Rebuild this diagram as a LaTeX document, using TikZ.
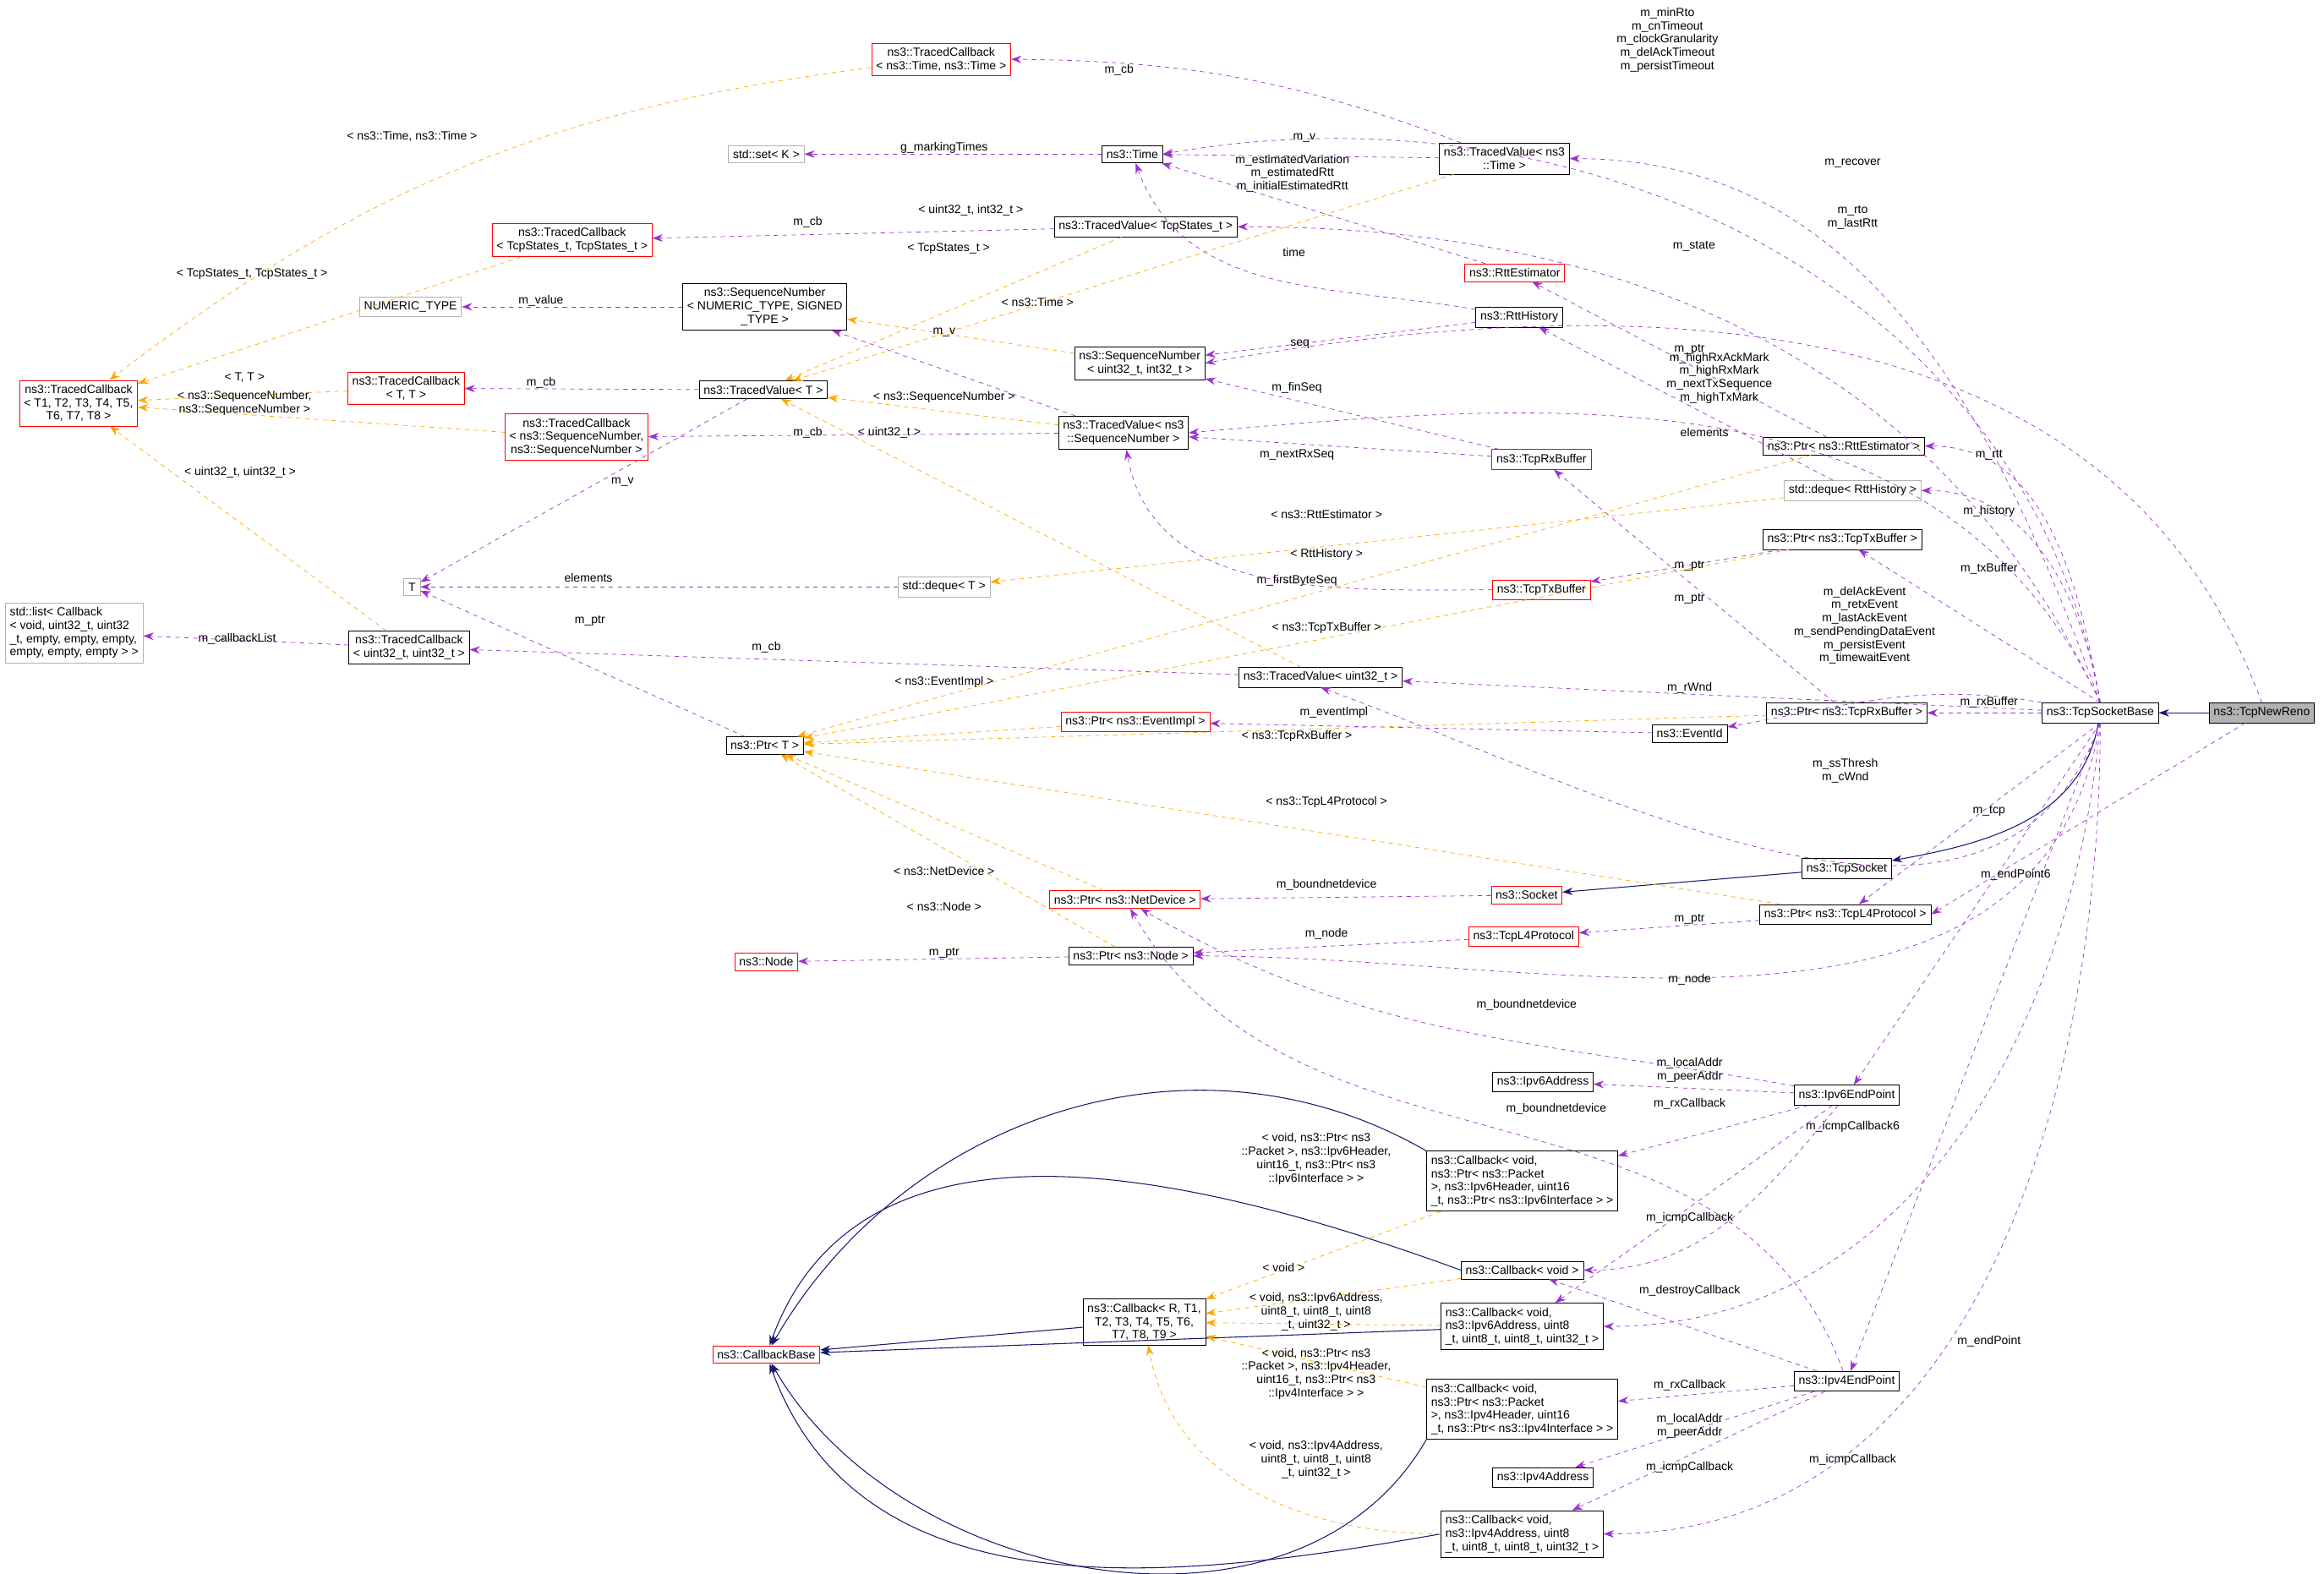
\documentclass[tikz,border=0pt]{standalone}
\usepackage{fontspec}
\setmainfont{Liberation Sans}
\usetikzlibrary{arrows.meta}
\definecolor{mbr}{HTML}{9A32CD}
\definecolor{tpl}{HTML}{FFA500}
\definecolor{inh}{HTML}{191970}
\tikzset{
    >={Stealth[length=7pt,width=5pt]},
    cls/.style={
           rectangle,
           draw=black, fill=white,
           inner sep=3pt,
           align=center,
           font=\fontsize{8pt}{9pt}\selectfont},
    redcls/.style={cls, draw=red},
    graycls/.style={cls, draw=gray!60},
    mem/.style={->, mbr, dashed},
    tmp/.style={->, tpl, dashed},
    base/.style={->, inh, semithick},
    lbl/.style={align=center, inner sep=0pt,
           font=\fontsize{8pt}{9pt}\selectfont}
}
\begin{document}
\begin{tikzpicture}[x=1pt,y=-1pt]
          \useasboundingbox (0,0) rectangle (1568,1062);
          % classes
          \node[redcls](tcbtime) at (635,40) {ns3::TracedCallback\\{}< ns3::Time, ns3::Time >};
          \node[graycls](setk) at (517,104) {std::set< K >};
          \node[cls](time) at (764,104) {ns3::Time};
          \node[cls](tvtime) at (1015,107) {ns3::TracedValue< ns3\\::Time >};
          \node[redcls](tcbstates) at (386,162) {ns3::TracedCallback\\{}< TcpStates\_t, TcpStates\_t >};
          \node[cls](tvstates) at (773,153) {ns3::TracedValue< TcpStates\_t >};
          \node[redcls](rttest) at (1022,184) {ns3::RttEstimator};
          \node[graycls](numtype) at (277,207) {NUMERIC\_TYPE};
          \node[cls](seqgen) at (516,207) {ns3::SequenceNumber\\{}< NUMERIC\_TYPE, SIGNED\\\_TYPE >};
          \node[cls](rtthist) at (1025,214) {ns3::RttHistory};
          \node[cls](sequ32) at (769,245) {ns3::SequenceNumber\\{}< uint32\_t, int32\_t >};
          \node[redcls](tcbgen) at (53,272) {ns3::TracedCallback\\{}< T1, T2, T3, T4, T5,\\T6, T7, T8 >};
          \node[redcls](tcbtt) at (274,262) {ns3::TracedCallback\\{}< T, T >};
          \node[cls](tvgen) at (515,263) {ns3::TracedValue< T >};
          \node[redcls](tcbseq) at (389,295) {ns3::TracedCallback\\{}< ns3::SequenceNumber,\\ns3::SequenceNumber >};
          \node[cls](tvseq) at (758,292) {ns3::TracedValue< ns3\\::SequenceNumber >};
          \node[redcls](rxbuf) at (1040,310) {ns3::TcpRxBuffer};
          \node[cls](ptrrtt) at (1244,301) {ns3::Ptr< ns3::RttEstimator >};
          \node[graycls](dqrtt) at (1250,331) {std::deque< RttHistory >};
          \node[cls](ptrtx) at (1243,364) {ns3::Ptr< ns3::TcpTxBuffer >};
          \node[graycls](tgen) at (278,396) {T};
          \node[graycls](dqgen) at (637,396) {std::deque< T >};
          \node[redcls](txbuf) at (1040,398) {ns3::TcpTxBuffer};
          \node[graycls, align=left](cblist) at (50,427) {std::list< Callback\\{}< void, uint32\_t, uint32\\\_t, empty, empty, empty,\\ empty, empty, empty > >};
          \node[cls](tcbuu) at (276,437) {ns3::TracedCallback\\{}< uint32\_t, uint32\_t >};
          \node[cls](tvu32) at (891,457) {ns3::TracedValue< uint32\_t >};
          \node[cls](sockbase) at (1417,481) {ns3::TcpSocketBase};
          \node[cls, fill=gray!60](newreno) at (1526,481) {ns3::TcpNewReno};
          \node[cls](ptrrx) at (1246,481) {ns3::Ptr< ns3::TcpRxBuffer >};
          \node[redcls](ptrevent) at (766,487) {ns3::Ptr< ns3::EventImpl >};
          \node[cls](eventid) at (1140,495) {ns3::EventId};
          \node[cls](ptrgen) at (516,503) {ns3::Ptr< T >};
          \node[cls](tcpsock) at (1246,586) {ns3::TcpSocket};
          \node[redcls](ptrdev) at (759,607) {ns3::Ptr< ns3::NetDevice >};
          \node[redcls](socket) at (1030,604) {ns3::Socket};
          \node[cls](ptrl4) at (1245,617) {ns3::Ptr< ns3::TcpL4Protocol >};
          \node[redcls](tcpl4) at (1028,632) {ns3::TcpL4Protocol};
          \node[redcls](node) at (517,649) {ns3::Node};
          \node[cls](ptrnode) at (763,645) {ns3::Ptr< ns3::Node >};
          \node[cls](ip6addr) at (1041,730) {ns3::Ipv6Address};
          \node[cls](ep6) at (1246,739) {ns3::Ipv6EndPoint};
          \node[cls, align=left](cb6pkt) at (1027,797) {ns3::Callback< void,\\ ns3::Ptr< ns3::Packet\\ >, ns3::Ipv6Header, uint16\\\_t, ns3::Ptr< ns3::Ipv6Interface > >};
          \node[cls](cbvoid) at (1027,857) {ns3::Callback< void >};
          \node[cls](cbgen) at (772,892) {ns3::Callback< R, T1,\\ T2, T3, T4, T5, T6,\\ T7, T8, T9 >};
          \node[redcls](cbbase) at (517,914) {ns3::CallbackBase};
          \node[cls, align=left](cb6addr) at (1027,895) {ns3::Callback< void,\\ ns3::Ipv6Address, uint8\\\_t, uint8\_t, uint8\_t, uint32\_t >};
          \node[cls](ep4) at (1246,932) {ns3::Ipv4EndPoint};
          \node[cls, align=left](cb4pkt) at (1027,951) {ns3::Callback< void,\\ ns3::Ptr< ns3::Packet\\ >, ns3::Ipv4Header, uint16\\\_t, ns3::Ptr< ns3::Ipv4Interface > >};
          \node[cls](ip4addr) at (1041,997) {ns3::Ipv4Address};
          \node[cls, align=left](cb4addr) at (1027,1035) {ns3::Callback< void,\\ ns3::Ipv4Address, uint8\\\_t, uint8\_t, uint8\_t, uint32\_t >};
          % inheritance
          \draw[base] (newreno) -- (sockbase);
          \draw[base] (sockbase) to[out=-100, in=10] (tcpsock);
          \draw[base] (tcpsock) -- (socket);
          \draw[base] (cbgen) -- (cbbase);
          \draw[base] (cb6pkt.north west) to[out=150, in=60] (cbbase);
          \draw[base] (cbvoid.west) to[out=160, in=70] (cbbase);
          \draw[base] (cb6addr) -- (cbbase);
          \draw[base] (cb4pkt.south west) to[out=-120, in=-60] (cbbase);
          \draw[base] (cb4addr.west) to[out=190, in=-70] (cbbase);
          % members
          \draw[mem] (tvtime) to[bend right=10] (tcbtime);
          \draw[mem] (tvtime) -- (time);
          \draw[mem] (sockbase.north) to[out=100, in=10] (time.east);
          \draw[mem] (time) -- (setk);
          \draw[mem] (tvstates) -- (tcbstates);
          \draw[mem] (rttest) -- (time);
          \draw[mem] (rtthist) to[out=170, in=-70] (time);
          \draw[mem] (sockbase.north) to[out=110, in=0] (tvtime.east);
          \draw[mem] (sockbase.north) to[out=115, in=0] (tvstates.east);
          \draw[mem] (seqgen) -- (numtype);
          \draw[mem] (tvseq) -- (seqgen);
          \draw[mem] (ptrrtt) -- (rttest);
          \draw[mem] (rtthist) -- (sequ32);
          \draw[mem] (newreno.north) to[out=110, in=10] (sequ32.east);
          \draw[mem] (rxbuf) -- (sequ32);
          \draw[mem] (sockbase.north) to[out=115, in=5] (tvseq.east);
          \draw[mem] (tvgen) -- (tcbtt);
          \draw[mem] (tvseq) -- (tcbseq);
          \draw[mem] (rxbuf) -- (tvseq);
          \draw[mem] (txbuf) to[out=180, in=-80] (tvseq);
          \draw[mem] (dqrtt) -- (rtthist);
          \draw[mem] (ptrrx) -- (rxbuf);
          \draw[mem] (sockbase.north) to[out=100, in=0] (ptrrtt.east);
          \draw[mem] (sockbase.north) to[out=100, in=0] (dqrtt.east);
          \draw[mem] (sockbase.north) -- (ptrtx);
          \draw[mem] (ptrtx) -- (txbuf);
          \draw[mem] (dqgen) -- (tgen);
          \draw[mem] (tvgen) -- (tgen);
          \draw[mem] (ptrgen) -- (tgen);
          \draw[mem] (tcbuu) -- (cblist);
          \draw[mem] (tvu32) -- (tcbuu);
          \draw[mem] (sockbase) -- (tvu32);
          \draw[mem] (sockbase.south) to[out=-110, in=-20] (tvu32.south);
          \draw[mem] (sockbase) to[out=170, in=10] (eventid);
          \draw[mem] (eventid) -- (ptrevent);
          \draw[mem] (sockbase) -- (ptrrx);
          \draw[mem] (socket) -- (ptrdev);
          \draw[mem] (sockbase.south) -- (ptrl4);
          \draw[mem] (ptrl4) -- (tcpl4);
          \draw[mem] (ptrnode) -- (node);
          \draw[mem] (tcpl4) -- (ptrnode);
          \draw[mem] (sockbase.south) to[out=-100, in=0] (ptrnode.east);
          \draw[mem] (ep6) to[out=170, in=-30] (ptrdev);
          \draw[mem] (ep4) to[out=110, in=-60] (ptrdev);
          \draw[mem] (sockbase.south) -- (ep6);
          \draw[mem] (sockbase.south) -- (ep4);
          \draw[mem] (ep6) -- (ip6addr);
          \draw[mem] (ep6) -- (cb6pkt);
          \draw[mem] (ep6) to[out=-130, in=0] (cbvoid);
          \draw[mem] (ep6) -- (cb6addr);
          \draw[mem] (sockbase.south) to[out=-95, in=0] (cb6addr.east);
          \draw[mem] (ep4) -- (cbvoid);
          \draw[mem] (ep4) -- (cb4pkt);
          \draw[mem] (ep4) -- (ip4addr);
          \draw[mem] (ep4) -- (cb4addr);
          \draw[mem] (sockbase.south) to[out=-90, in=0] (cb4addr.east);
          \draw[mem] (newreno) -- (ptrl4.east);
          % templates
          \draw[tmp] (tcbtime) to[bend right=15] (tcbgen);
          \draw[tmp] (tcbstates) -- (tcbgen);
          \draw[tmp] (tcbtt) -- (tcbgen);
          \draw[tmp] (tcbseq) -- (tcbgen);
          \draw[tmp] (tcbuu) -- (tcbgen);
          \draw[tmp] (tvstates) -- (tvgen);
          \draw[tmp] (tvtime) -- (tvgen);
          \draw[tmp] (tvseq) -- (tvgen);
          \draw[tmp] (tvu32) -- (tvgen);
          \draw[tmp] (sequ32) -- (seqgen);
          \draw[tmp] (ptrrtt) -- (ptrgen);
          \draw[tmp] (dqrtt) -- (dqgen);
          \draw[tmp] (ptrtx) -- (ptrgen);
          \draw[tmp] (ptrevent) -- (ptrgen);
          \draw[tmp] (ptrrx) -- (ptrgen);
          \draw[tmp] (ptrl4) -- (ptrgen);
          \draw[tmp] (ptrdev) -- (ptrgen);
          \draw[tmp] (ptrnode) -- (ptrgen);
          \draw[tmp] (cb6pkt) -- (cbgen);
          \draw[tmp] (cbvoid) -- (cbgen);
          \draw[tmp] (cb6addr) -- (cbgen);
          \draw[tmp] (cb4pkt) -- (cbgen);
          \draw[tmp] (cb4addr) to[out=180, in=-80] (cbgen);
          % labels
          \node[lbl](lcb1) at (755,47) {m\_cb};
          \node[lbl](lv1) at (880,93) {m\_v};
          \node[lbl](lrto) at (1125,27) {m\_minRto\\m\_cnTimeout\\m\_clockGranularity\\m\_delAckTimeout\\m\_persistTimeout};
          \node[lbl](lmark) at (637,100) {g\_markingTimes};
          \node[lbl](lcb2) at (545,150) {m\_cb};
          \node[lbl](lest) at (872,117) {m\_estimatedVariation\\m\_estimatedRtt\\m\_initialEstimatedRtt};
          \node[lbl](ltime) at (873,170) {time};
          \node[lbl](lrec) at (1250,110) {m\_recover};
          \node[lbl](lrtt) at (1250,147) {m\_rto\\m\_lastRtt};
          \node[lbl](lstate) at (1143,166) {m\_state};
          \node[lbl](lval) at (365,203) {m\_value};
          \node[lbl](lv2) at (637,224) {m\_v};
          \node[lbl](lseq) at (877,232) {seq};
          \node[lbl](lptr1) at (1140,236) {m\_ptr};
          \node[lbl](lhigh) at (1160,255) {m\_highRxAckMark\\m\_highRxMark\\m\_nextTxSequence\\m\_highTxMark};
          \node[lbl](lcb3) at (365,258) {m\_cb};
          \node[lbl](lcb4) at (545,292) {m\_cb};
          \node[lbl](lfin) at (875,262) {m\_finSeq};
          \node[lbl](lnext) at (875,307) {m\_nextRxSeq};
          \node[lbl](lel1) at (1150,292) {elements};
          \node[lbl](lrttm) at (1342,307) {m\_rtt};
          \node[lbl](lv3) at (420,325) {m\_v};
          \node[lbl](lhist) at (1342,345) {m\_history};
          \node[lbl](ltxb) at (1342,384) {m\_txBuffer};
          \node[lbl](lptr2) at (1140,382) {m\_ptr};
          \node[lbl](lel2) at (397,390) {elements};
          \node[lbl](lfirst) at (875,392) {m\_firstByteSeq};
          \node[lbl](lptr3) at (398,419) {m\_ptr};
          \node[lbl](lptr4) at (1140,404) {m\_ptr};
          \node[lbl](lev) at (1258,422) {m\_delAckEvent\\m\_retxEvent\\m\_lastAckEvent\\m\_sendPendingDataEvent\\m\_persistEvent\\m\_timewaitEvent};
          \node[lbl](lcbl) at (160,431) {m\_callbackList};
          \node[lbl](lcb5) at (517,437) {m\_cb};
          \node[lbl](lrw) at (1140,464) {m\_rWnd};
          \node[lbl](leimp) at (900,481) {m\_eventImpl};
          \node[lbl](lrxb) at (1342,474) {m\_rxBuffer};
          \node[lbl](lss) at (1245,520) {m\_ssThresh\\m\_cWnd};
          \node[lbl](ltcp) at (1342,547) {m\_tcp};
          \node[lbl](lep6) at (1360,590) {m\_endPoint6};
          \node[lbl](lbnd1) at (895,597) {m\_boundnetdevice};
          \node[lbl](lnode1) at (895,630) {m\_node};
          \node[lbl](lptr5) at (1140,620) {m\_ptr};
          \node[lbl](lptr6) at (637,643) {m\_ptr};
          \node[lbl](lnode2) at (1140,661) {m\_node};
          \node[lbl](lbnd2) at (1030,678) {m\_boundnetdevice};
          \node[lbl](laddr6) at (1140,722) {m\_localAddr\\m\_peerAddr};
          \node[lbl](lbnd3) at (1050,748) {m\_boundnetdevice};
          \node[lbl](lrx6) at (1140,745) {m\_rxCallback};
          \node[lbl](licmp6) at (1250,760) {m\_icmpCallback6};
          \node[lbl](licmpa) at (1140,822) {m\_icmpCallback};
          \node[lbl](ldes) at (1140,871) {m\_destroyCallback};
          \node[lbl](lep4) at (1342,905) {m\_endPoint};
          \node[lbl](lrx4) at (1140,935) {m\_rxCallback};
          \node[lbl](laddr4) at (1140,962) {m\_localAddr\\m\_peerAddr};
          \node[lbl](licmpb) at (1140,990) {m\_icmpCallback};
          \node[lbl](licmpc) at (1250,985) {m\_icmpCallback};
          % template labels
          \node[lbl](tl1) at (278,92) {< ns3::Time, ns3::Time >};
          \node[lbl](tl2) at (170,185) {< TcpStates\_t, TcpStates\_t >};
          \node[lbl](tl3) at (165,255) {< T, T >};
          \node[lbl](tl4) at (165,272) {< ns3::SequenceNumber,\\ns3::SequenceNumber >};
          \node[lbl](tl5) at (162,319) {< uint32\_t, uint32\_t >};
          \node[lbl](tl6) at (655,142) {< uint32\_t, int32\_t >};
          \node[lbl](tl7) at (640,168) {< TcpStates\_t >};
          \node[lbl](tl8) at (700,204) {< ns3::Time >};
          \node[lbl](tl9) at (637,268) {< ns3::SequenceNumber >};
          \node[lbl](tl10) at (600,292) {< uint32\_t >};
          \node[lbl](tl11) at (895,347) {< ns3::RttEstimator >};
          \node[lbl](tl12) at (895,374) {< RttHistory >};
          \node[lbl](tl13) at (895,424) {< ns3::TcpTxBuffer >};
          \node[lbl](tl14) at (637,460) {< ns3::EventImpl >};
          \node[lbl](tl15) at (875,497) {< ns3::TcpRxBuffer >};
          \node[lbl](tl16) at (895,541) {< ns3::TcpL4Protocol >};
          \node[lbl](tl17) at (637,588) {< ns3::NetDevice >};
          \node[lbl](tl18) at (637,612) {< ns3::Node >};
          \node[lbl](tl19) at (888,782) {< void, ns3::Ptr< ns3\\::Packet >, ns3::Ipv6Header,\\uint16\_t, ns3::Ptr< ns3\\::Ipv6Interface > >};
          \node[lbl](tl20) at (866,855) {< void >};
          \node[lbl](tl21) at (888,885) {< void, ns3::Ipv6Address,\\uint8\_t, uint8\_t, uint8\\\_t, uint32\_t >};
          \node[lbl](tl22) at (888,927) {< void, ns3::Ptr< ns3\\::Packet >, ns3::Ipv4Header,\\uint16\_t, ns3::Ptr< ns3\\::Ipv4Interface > >};
          \node[lbl](tl23) at (888,985) {< void, ns3::Ipv4Address,\\uint8\_t, uint8\_t, uint8\\\_t, uint32\_t >};
\end{tikzpicture}
\end{document}
